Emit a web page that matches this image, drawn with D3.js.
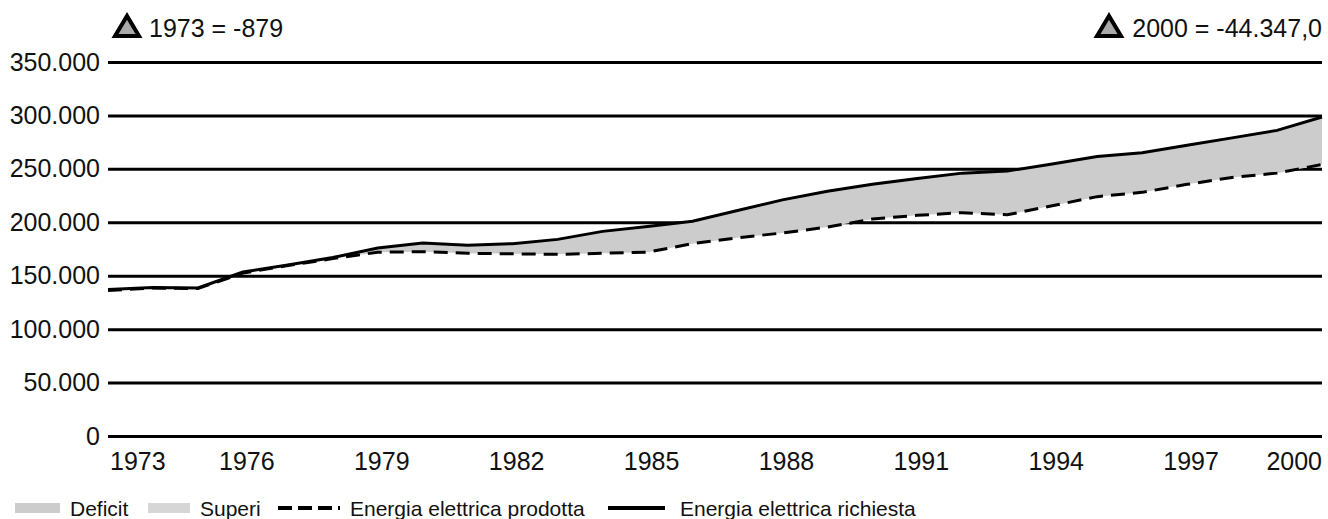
<!DOCTYPE html>
<html lang="it">
<head>
  <meta charset="UTF-8">
  <title>Energia elettrica</title>
  <style>
    body { margin: 0; background: #ffffff; }
    svg { display: block; }
    text { font-family: "Liberation Sans", Arial, sans-serif; fill: #111; }
  </style>
  <script src="https://d3js.org/d3.v7.min.js"></script>
</head>
<body>
<script>

  // anni
  var years = [1973, 1974, 1975, 1976, 1977, 1978, 1979, 1980, 1981, 1982,
               1983, 1984, 1985, 1986, 1987, 1988, 1989, 1990, 1991, 1992,
               1993, 1994, 1995, 1996, 1997, 1998, 1999, 2000];

  // energia elettrica richiesta (GWh)
  var richiesta = [137000, 139000, 138500, 153500, 160000, 167000, 176000, 180500, 178500, 180000,
                   184000, 191500, 196000, 201000, 211000, 221000, 229000, 235500, 241000, 246000,
                   248000, 254500, 261500, 265000, 272000, 279000, 286000, 298500];

  // energia elettrica prodotta (GWh)
  var prodotta = [136121, 138500, 138000, 152500, 159500, 166000, 172000, 172500, 171000, 170500,
                  170000, 171000, 172000, 180000, 185500, 190000, 195500, 203000, 206500, 209000,
                  207000, 215500, 224000, 228000, 235500, 242000, 246000, 254153];

  var yTicks = [0, 50000, 100000, 150000, 200000, 250000, 300000, 350000];
  var xTicks = [1973, 1976, 1979, 1982, 1985, 1988, 1991, 1994, 1997, 2000];

  var noteLeft = "1973 = -879";
  var noteRight = "2000 = -44.347,0";

  var legendLabels = ["Deficit", "Superi", "Energia elettrica prodotta", "Energia elettrica richiesta"];

  var W = 1328, H = 519;
  var mLeft = 108, mRight = 1322, mTop = 62, mBottom = 436;

  var it = d3.formatLocale({decimal: ",", thousands: ".", grouping: [3], currency: ["", " €"]});
  var fmt = it.format(",.0f");

  var svg = d3.select("body").append("svg")
    .attr("width", W)
    .attr("height", H);

  var x = d3.scaleLinear().domain([1973, 2000]).range([mLeft, mRight]);
  var y = d3.scaleLinear().domain([0, 350000]).range([mBottom, mTop]);

  var data = years.map(function(d, i) {
    return {year: d, req: richiesta[i], prod: prodotta[i]};
  });

  // griglia + etichette asse y
  var yAxis = d3.axisLeft(y)
    .tickValues(yTicks)
    .tickSize(-(mRight - mLeft))
    .tickPadding(8)
    .tickFormat(function(d) { return d === 0 ? "0" : fmt(d); });

  var gy = svg.append("g")
    .attr("transform", "translate(" + mLeft + ",0)")
    .call(yAxis);
  gy.select(".domain").remove();
  gy.selectAll(".tick line").attr("stroke", "#000").attr("stroke-width", 3);
  gy.selectAll(".tick text")
    .attr("font-size", 25)
    .attr("fill", "#111")
    .attr("font-family", "Liberation Sans, Arial, sans-serif");

  // area deficit / superi
  var areaDef = d3.area()
    .x(function(d) { return x(d.year); })
    .y0(function(d) { return y(Math.min(d.prod, d.req)); })
    .y1(function(d) { return y(d.req); });

  var areaSup = d3.area()
    .x(function(d) { return x(d.year); })
    .y0(function(d) { return y(d.req); })
    .y1(function(d) { return y(Math.max(d.prod, d.req)); });

  svg.append("path").datum(data)
    .attr("d", areaDef)
    .attr("fill", "#cccccc");

  svg.append("path").datum(data)
    .attr("d", areaSup)
    .attr("fill", "#dddddd");

  var lineReq = d3.line()
    .x(function(d) { return x(d.year); })
    .y(function(d) { return y(d.req); });

  var lineProd = d3.line()
    .x(function(d) { return x(d.year); })
    .y(function(d) { return y(d.prod); });

  svg.append("path").datum(data)
    .attr("d", lineProd)
    .attr("fill", "none")
    .attr("stroke", "#000")
    .attr("stroke-width", 3)
    .attr("stroke-dasharray", "14,8");

  svg.append("path").datum(data)
    .attr("d", lineReq)
    .attr("fill", "none")
    .attr("stroke", "#000")
    .attr("stroke-width", 3);

  // etichette asse x
  svg.append("g").selectAll("text")
    .data(xTicks)
    .enter()
    .append("text")
    .attr("x", function(d, i) {
      if (i === 0) return x(d) + 2;
      if (i === xTicks.length - 1) return x(d);
      return x(d) + 4;
    })
    .attr("y", mBottom + 34)
    .attr("font-size", 25)
    .attr("text-anchor", function(d, i) {
      if (i === 0) return "start";
      if (i === xTicks.length - 1) return "end";
      return "middle";
    })
    .text(function(d) { return d; });

  // note delta
  function delta(g, tx) {
    g.append("path")
      .attr("d", "M" + tx + ",36 L" + (tx + 12) + ",16 L" + (tx + 24) + ",36 Z")
      .attr("fill", "#aaaaaa")
      .attr("stroke", "#000")
      .attr("stroke-width", 4)
      .attr("stroke-linejoin", "miter");
  }
  var notes = svg.append("g");
  delta(notes, 115);
  notes.append("text")
    .attr("x", 149).attr("y", 37)
    .attr("font-size", 25)
    .text(noteLeft);
  delta(notes, 1097);
  notes.append("text")
    .attr("x", mRight).attr("y", 37)
    .attr("font-size", 25)
    .attr("text-anchor", "end")
    .text(noteRight);

  // legenda
  var legX = [15, 148, 278, 608];
  var legTextX = [70, 200, 350, 680];
  var leg = svg.append("g");
  var ly = 508;

  leg.append("rect").attr("x", legX[0]).attr("y", ly - 5).attr("width", 45).attr("height", 10).attr("fill", "#cccccc");
  leg.append("rect").attr("x", legX[1]).attr("y", ly - 5).attr("width", 42).attr("height", 10).attr("fill", "#d6d6d6");
  leg.append("line").attr("x1", legX[2]).attr("x2", legX[2] + 62).attr("y1", ly).attr("y2", ly)
    .attr("stroke", "#000").attr("stroke-width", 4).attr("stroke-dasharray", "14,6");
  leg.append("line").attr("x1", legX[3]).attr("x2", legX[3] + 57).attr("y1", ly).attr("y2", ly)
    .attr("stroke", "#000").attr("stroke-width", 4);

  leg.selectAll("text.lab")
    .data(legendLabels)
    .enter()
    .append("text")
    .attr("class", "lab")
    .attr("x", function(d, i) { return legTextX[i]; })
    .attr("y", ly + 8)
    .attr("font-size", 21)
    .text(function(d) { return d; });

</script>
</body>
</html>
